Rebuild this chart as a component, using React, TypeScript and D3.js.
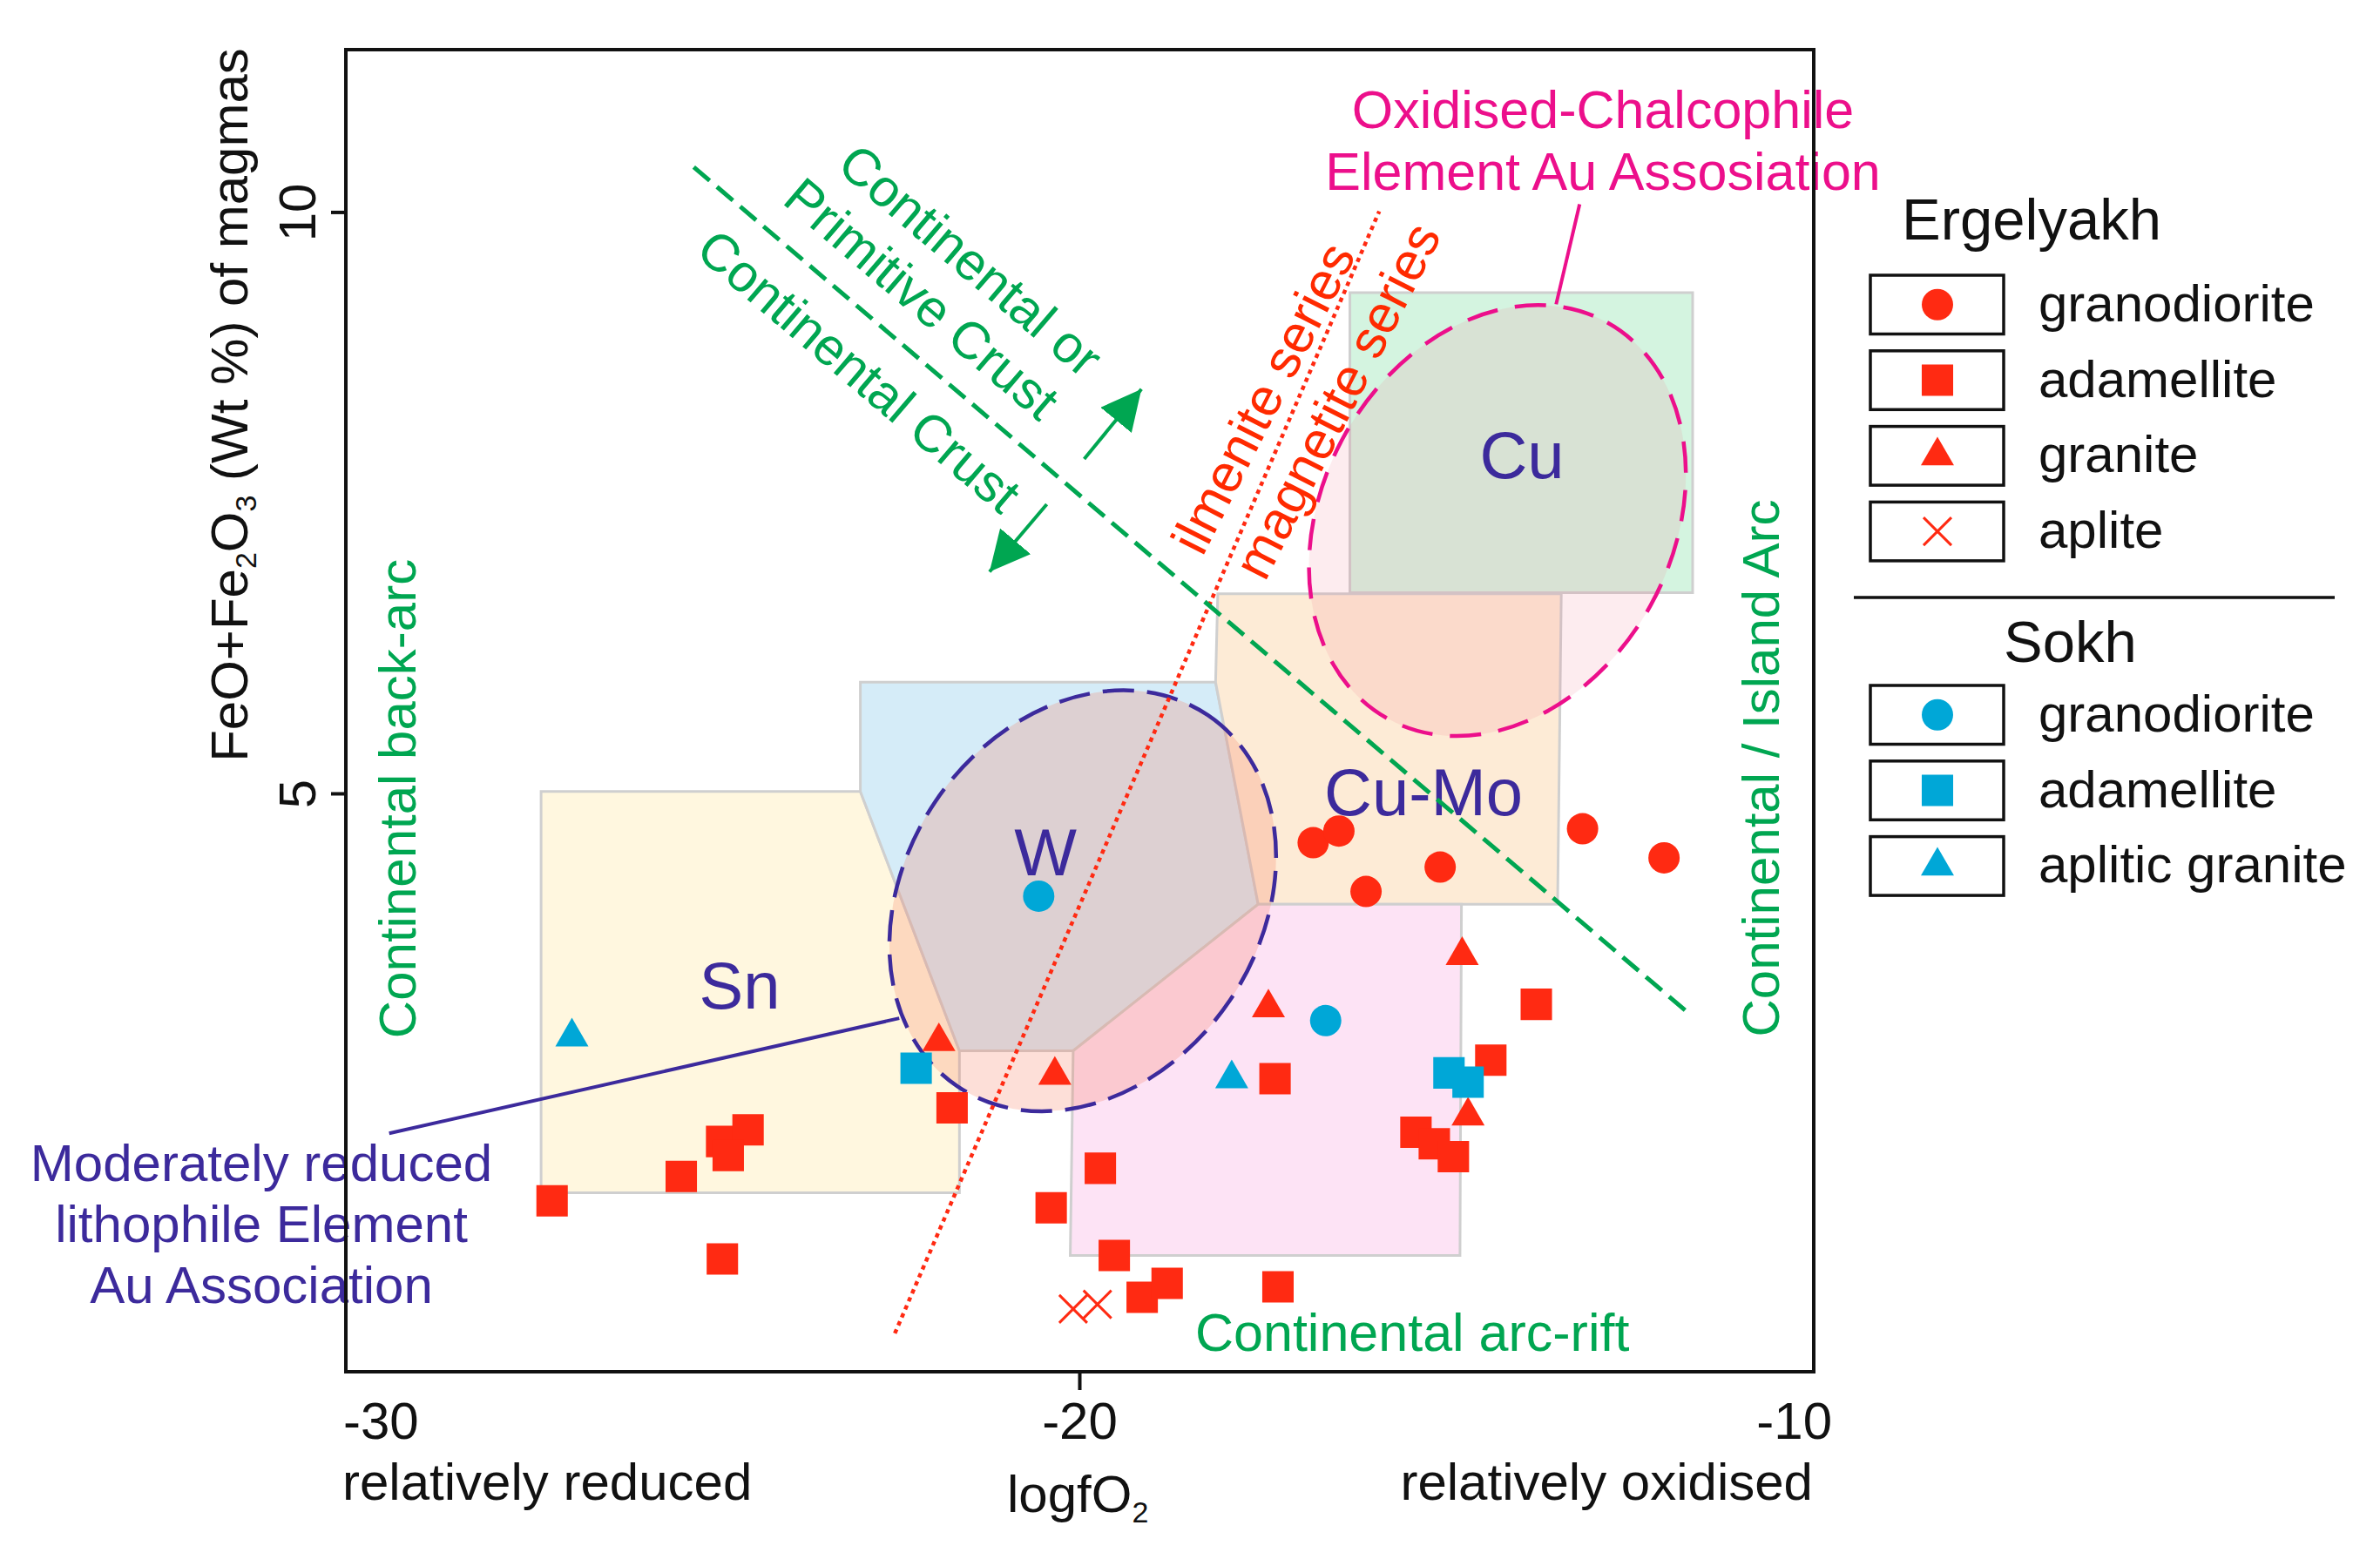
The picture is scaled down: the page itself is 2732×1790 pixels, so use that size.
import * as d3 from "d3";

// logfO2 (x) vs FeO+Fe2O3 wt% (y)
const ergRedCircles: [number, number][] = [
  [-16.82, 4.58], [-16.47, 4.68], [-16.1, 4.16], [-15.09, 4.37], [-13.15, 4.7], [-12.04, 4.45],
];
const ergRedSquares: [number, number][] = [
  [-27.19, 1.5], [-25.43, 1.71], [-24.88, 2.01], [-24.52, 2.11], [-24.79, 1.89], [-24.87, 1.0],
  [-21.74, 2.3], [-20.39, 1.44], [-19.72, 1.78], [-19.53, 1.03], [-19.15, 0.67], [-18.81, 0.79],
  [-17.34, 2.55], [-17.3, 0.76], [-15.42, 2.09], [-15.17, 1.99], [-14.91, 1.88], [-14.4, 2.71],
  [-13.78, 3.19],
];
const ergRedTriangles: [number, number][] = [
  [-21.92, 2.87], [-20.34, 2.58], [-17.43, 3.16], [-14.79, 3.61], [-14.71, 2.23],
];
const ergRedCrosses: [number, number][] = [[-20.09, 0.57], [-19.76, 0.61]];
const sokhCircles: [number, number][] = [[-20.56, 4.12], [-16.65, 3.05]];
const sokhSquares: [number, number][] = [[-22.23, 2.64], [-14.97, 2.6], [-14.71, 2.52]];
const sokhTriangles: [number, number][] = [[-26.92, 2.91], [-17.93, 2.55]];

// deposit fields
const snField: [number, number][] = [[-27.34, 5.02], [-22.99, 5.02], [-21.64, 2.79], [-21.64, 1.57], [-27.34, 1.57]];
const wField: [number, number][] = [[-22.99, 5.96], [-18.15, 5.96], [-17.57, 4.05], [-20.09, 2.79], [-21.64, 2.79], [-22.99, 5.02]];
const cuMoField: [number, number][] = [[-18.12, 6.72], [-13.44, 6.72], [-13.49, 4.05], [-17.57, 4.05], [-18.15, 5.96]];
const cuMoLowerField: [number, number][] = [[-17.57, 4.05], [-14.8, 4.05], [-14.82, 1.03], [-20.13, 1.03], [-20.09, 2.79]];
const cuField: [number, number][] = [[-16.32, 9.31], [-11.65, 9.31], [-11.65, 6.73], [-16.32, 6.73]];

const reducedCentre: [number, number] = [-19.96, 4.08];
const oxidisedCentre: [number, number] = [-14.31, 7.35];

const crustLine: [number, number][] = [[-25.26, 10.39], [-11.68, 3.1]];
const upArrow: [number, number][] = [[-19.94, 7.88], [-19.16, 8.48]];
const downArrow: [number, number][] = [[-20.45, 7.49], [-21.23, 6.91]];
const seriesLine: [number, number][] = [[-22.52, 0.36], [-15.92, 10.01]];
const reducedLeader: [number, number][] = [[-29.41, 2.08], [-22.46, 3.07]];
const oxidisedLeader: [number, number][] = [[-13.19, 10.07], [-13.51, 9.21]];

const xTickLabels = ["-30", "-20", "-10"];
const yTicks = [5, 10];
const ergelyakhLabels = ["granodiorite", "adamellite", "granite", "aplite"];
const sokhLabels = ["granodiorite", "adamellite", "aplitic granite"];

const RED = "#ff2a12";
const CYAN = "#00a7d7";
const PURPLE = "#3c2a9c";
const GREEN = "#00a651";
const PINK = "#ec0f8b";
const FONT = "'Liberation Sans', Arial, Helvetica, sans-serif";

export default function App() {
  const W = 2732;
  const H = 1790;
  const plot = { left: 397, right: 2082, top: 57, bottom: 1575 };

  const x = d3.scaleLinear().domain([-30, -10]).range([plot.left, plot.right]);
  const y = d3.scaleLinear().domain([0.03, 11.4]).range([plot.bottom, plot.top]);

  const line = d3.line<[number, number]>().x(d => x(d[0])).y(d => y(d[1]));
  const poly = (pts: [number, number][]) => line(pts) + "Z";

  const circle = d3.symbol(d3.symbolCircle, 1018)()!;
  const square = d3.symbol(d3.symbolSquare, 1300)()!;
  const triangle = d3.symbol(d3.symbolTriangle, 625)()!;
  const cross = "M-16,-16L16,16M-16,16L16,-16";

  const angleOf = (pts: [number, number][]) =>
    (Math.atan2(y(pts[1][1]) - y(pts[0][1]), x(pts[1][0]) - x(pts[0][0])) * 180) / Math.PI;
  const crustAngle = angleOf(crustLine);

  const regionStroke = { stroke: "#cfcfcf", strokeWidth: 3 };

  const ell = (c: [number, number], rx: number, ry: number, rot: number, fill: string, stroke: string, dash: string) => {
    const cx = x(c[0]);
    const cy = y(c[1]);
    return (
      <ellipse cx={cx} cy={cy} rx={rx} ry={ry} transform={`rotate(${rot} ${cx} ${cy})`}
        fill={fill} stroke={stroke} strokeWidth={4.5} strokeDasharray={dash} />
    );
  };

  const marks = (pts: [number, number][], d: string, color: string, stroke = false) =>
    pts.map((p, i) => (
      <path key={i} d={d} transform={`translate(${x(p[0])},${y(p[1])})`}
        fill={stroke ? "none" : color} stroke={stroke ? color : "none"} strokeWidth={stroke ? 3 : 0} />
    ));

  const legendBox = { x: 2147, w: 153, h: 67.5, step: 86.8, symX: 2224, textX: 2340 };
  const ergSyms = [
    { d: circle, c: RED, s: false }, { d: square, c: RED, s: false },
    { d: triangle, c: RED, s: false }, { d: cross, c: RED, s: true },
  ];
  const sokhSyms = [
    { d: circle, c: CYAN, s: false }, { d: square, c: CYAN, s: false }, { d: triangle, c: CYAN, s: false },
  ];

  const legendRows = (labels: string[], syms: typeof ergSyms, top: number) =>
    labels.map((lab, i) => {
      const y0 = top + i * legendBox.step;
      const cy = y0 + legendBox.h / 2;
      const s = syms[i];
      return (
        <g key={lab + i}>
          <rect x={legendBox.x} y={y0} width={legendBox.w} height={legendBox.h} fill="#fff" stroke="#111" strokeWidth={3.5} />
          <path d={s.d} transform={`translate(${legendBox.symX},${cy})`} fill={s.s ? "none" : s.c}
            stroke={s.s ? s.c : "none"} strokeWidth={s.s ? 3 : 0} />
          <text x={legendBox.textX} y={cy + 19} fontSize={60} fill="#111">{lab}</text>
        </g>
      );
    });

  return (
    <div style={{ position: "absolute", left: 0, top: 0 }}>
      <svg width={W} height={H} viewBox={`0 0 ${W} ${H}`} style={{ display: "block", background: "#fff" }} fontFamily={FONT}>
        <defs>
          <marker id="arrowHead" viewBox="0 0 10 10" refX={10} refY={5} markerUnits="userSpaceOnUse"
            markerWidth={46} markerHeight={46} orient="auto">
            <path d="M0,0L10,5L0,10Z" fill={GREEN} />
          </marker>
        </defs>

        {/* fields */}
        <path d={poly(snField)} fill="#fff7df" {...regionStroke} />
        <path d={poly(wField)} fill="#d5ecf8" {...regionStroke} />
        <path d={poly(cuMoField)} fill="#fdebd6" {...regionStroke} />
        <path d={poly(cuMoLowerField)} fill="#fde3f5" {...regionStroke} />
        <path d={poly(cuField)} fill="#d4f4e0" {...regionStroke} />

        {ell(reducedCentre, 257, 204, -56, "rgba(245,120,90,0.24)", PURPLE, "36 15")}
        {ell(oxidisedCentre, 260, 201, -61, "rgba(240,120,140,0.14)", PINK, "36 20")}

        {/* field labels */}
        <g fill={PURPLE} fontSize={76}>
          <text x={849} y={1158} textAnchor="middle">Sn</text>
          <text x={1200} y={1005} textAnchor="middle">W</text>
          <text x={1747} y={549} textAnchor="middle">Cu</text>
          <text x={1520} y={936}>Cu-Mo</text>
        </g>

        {/* magnetite / ilmenite boundary */}
        <path d={line(seriesLine)!} fill="none" stroke={RED} strokeWidth={4.5} strokeDasharray="5 5" />
        <g fill="#ff2a00" fontSize={61} textAnchor="middle" dominantBaseline="central">
          <text transform="translate(1450,457) rotate(-63)">ilmenite  series</text>
          <text transform="translate(1535,460) rotate(-63)">magnetite series</text>
        </g>

        {/* crust boundary */}
        <path d={line(crustLine)!} fill="none" stroke={GREEN} strokeWidth={5} strokeDasharray="24 11" />
        <path d={line(upArrow)!} fill="none" stroke={GREEN} strokeWidth={4} markerEnd="url(#arrowHead)" />
        <path d={line(downArrow)!} fill="none" stroke={GREEN} strokeWidth={4} markerEnd="url(#arrowHead)" />
        <g fill={GREEN} fontSize={60} textAnchor="middle" dominantBaseline="central">
          <text transform={`translate(1114,299) rotate(${crustAngle})`}>Continental or</text>
          <text transform={`translate(1058,343) rotate(${crustAngle})`}>Primitive Crust</text>
          <text transform={`translate(986,426) rotate(${crustAngle})`}>Continental Crust</text>
          <text transform="translate(456,917) rotate(-90)">Continental back-arc</text>
          <text transform="translate(2021,882) rotate(-90)">Continental / Island Arc</text>
        </g>
        <text x={1372} y={1551} fill={GREEN} fontSize={61}>Continental arc-rift</text>

        {/* association labels */}
        <path d={line(reducedLeader)!} fill="none" stroke={PURPLE} strokeWidth={4} />
        <text fill={PURPLE} fontSize={60} textAnchor="middle">
          <tspan x={300} y={1356}>Moderately reduced</tspan>
          <tspan x={300} y={1426}>lithophile Element</tspan>
          <tspan x={300} y={1496}>Au Association</tspan>
        </text>
        <path d={line(oxidisedLeader)!} fill="none" stroke={PINK} strokeWidth={4} />
        <text fill={PINK} fontSize={61} textAnchor="middle">
          <tspan x={1840} y={147}>Oxidised-Chalcophile</tspan>
          <tspan x={1840} y={218}>Element Au Assosiation</tspan>
        </text>

        {/* samples */}
        {marks(ergRedSquares, square, RED)}
        {marks(ergRedCircles, circle, RED)}
        {marks(ergRedTriangles, triangle, RED)}
        {marks(ergRedCrosses, cross, RED, true)}
        {marks(sokhCircles, circle, CYAN)}
        {marks(sokhSquares, square, CYAN)}
        {marks(sokhTriangles, triangle, CYAN)}

        {/* frame and axes */}
        <rect x={plot.left} y={plot.top} width={plot.right - plot.left} height={plot.bottom - plot.top}
          fill="none" stroke="#111" strokeWidth={4} />
        {yTicks.map(t => (
          <g key={t}>
            <line x1={plot.left - 17} x2={plot.left} y1={y(t)} y2={y(t)} stroke="#111" strokeWidth={4} />
            <text transform={`translate(362,${y(t)}) rotate(-90)`} textAnchor="middle" fontSize={60} fill="#111">{t}</text>
          </g>
        ))}
        <line x1={x(-20)} x2={x(-20)} y1={plot.bottom} y2={plot.bottom + 21} stroke="#111" strokeWidth={4} />
        <g fontSize={60} fill="#111">
          <text x={x(-30) - 3} y={1652} textAnchor="start">{xTickLabels[0]}</text>
          <text x={x(-20)} y={1652} textAnchor="middle">{xTickLabels[1]}</text>
          <text x={x(-10) + 21} y={1652} textAnchor="end">{xTickLabels[2]}</text>
          <text x={393} y={1722}>relatively reduced</text>
          <text x={2081} y={1722} textAnchor="end">relatively oxidised</text>
          <text x={1156} y={1736}>logfO<tspan fontSize={34} dy={12}>2</tspan></text>
          <text transform="translate(284,465) rotate(-90)" textAnchor="middle">
            FeO+Fe<tspan fontSize={34} dy={10}>2</tspan><tspan dy={-10}>O</tspan>
            <tspan fontSize={34} dy={10}>3</tspan><tspan dy={-10}>{" (Wt %) of magmas"}</tspan>
          </text>
        </g>

        {/* legend */}
        <text x={2183} y={275} fontSize={67} fill="#111">Ergelyakh</text>
        {legendRows(ergelyakhLabels, ergSyms, 316)}
        <line x1={2128} x2={2680} y1={686} y2={686} stroke="#111" strokeWidth={3.5} />
        <text x={2300} y={760} fontSize={67} fill="#111">Sokh</text>
        {legendRows(sokhLabels, sokhSyms, 787)}
      </svg>
    </div>
  );
}
